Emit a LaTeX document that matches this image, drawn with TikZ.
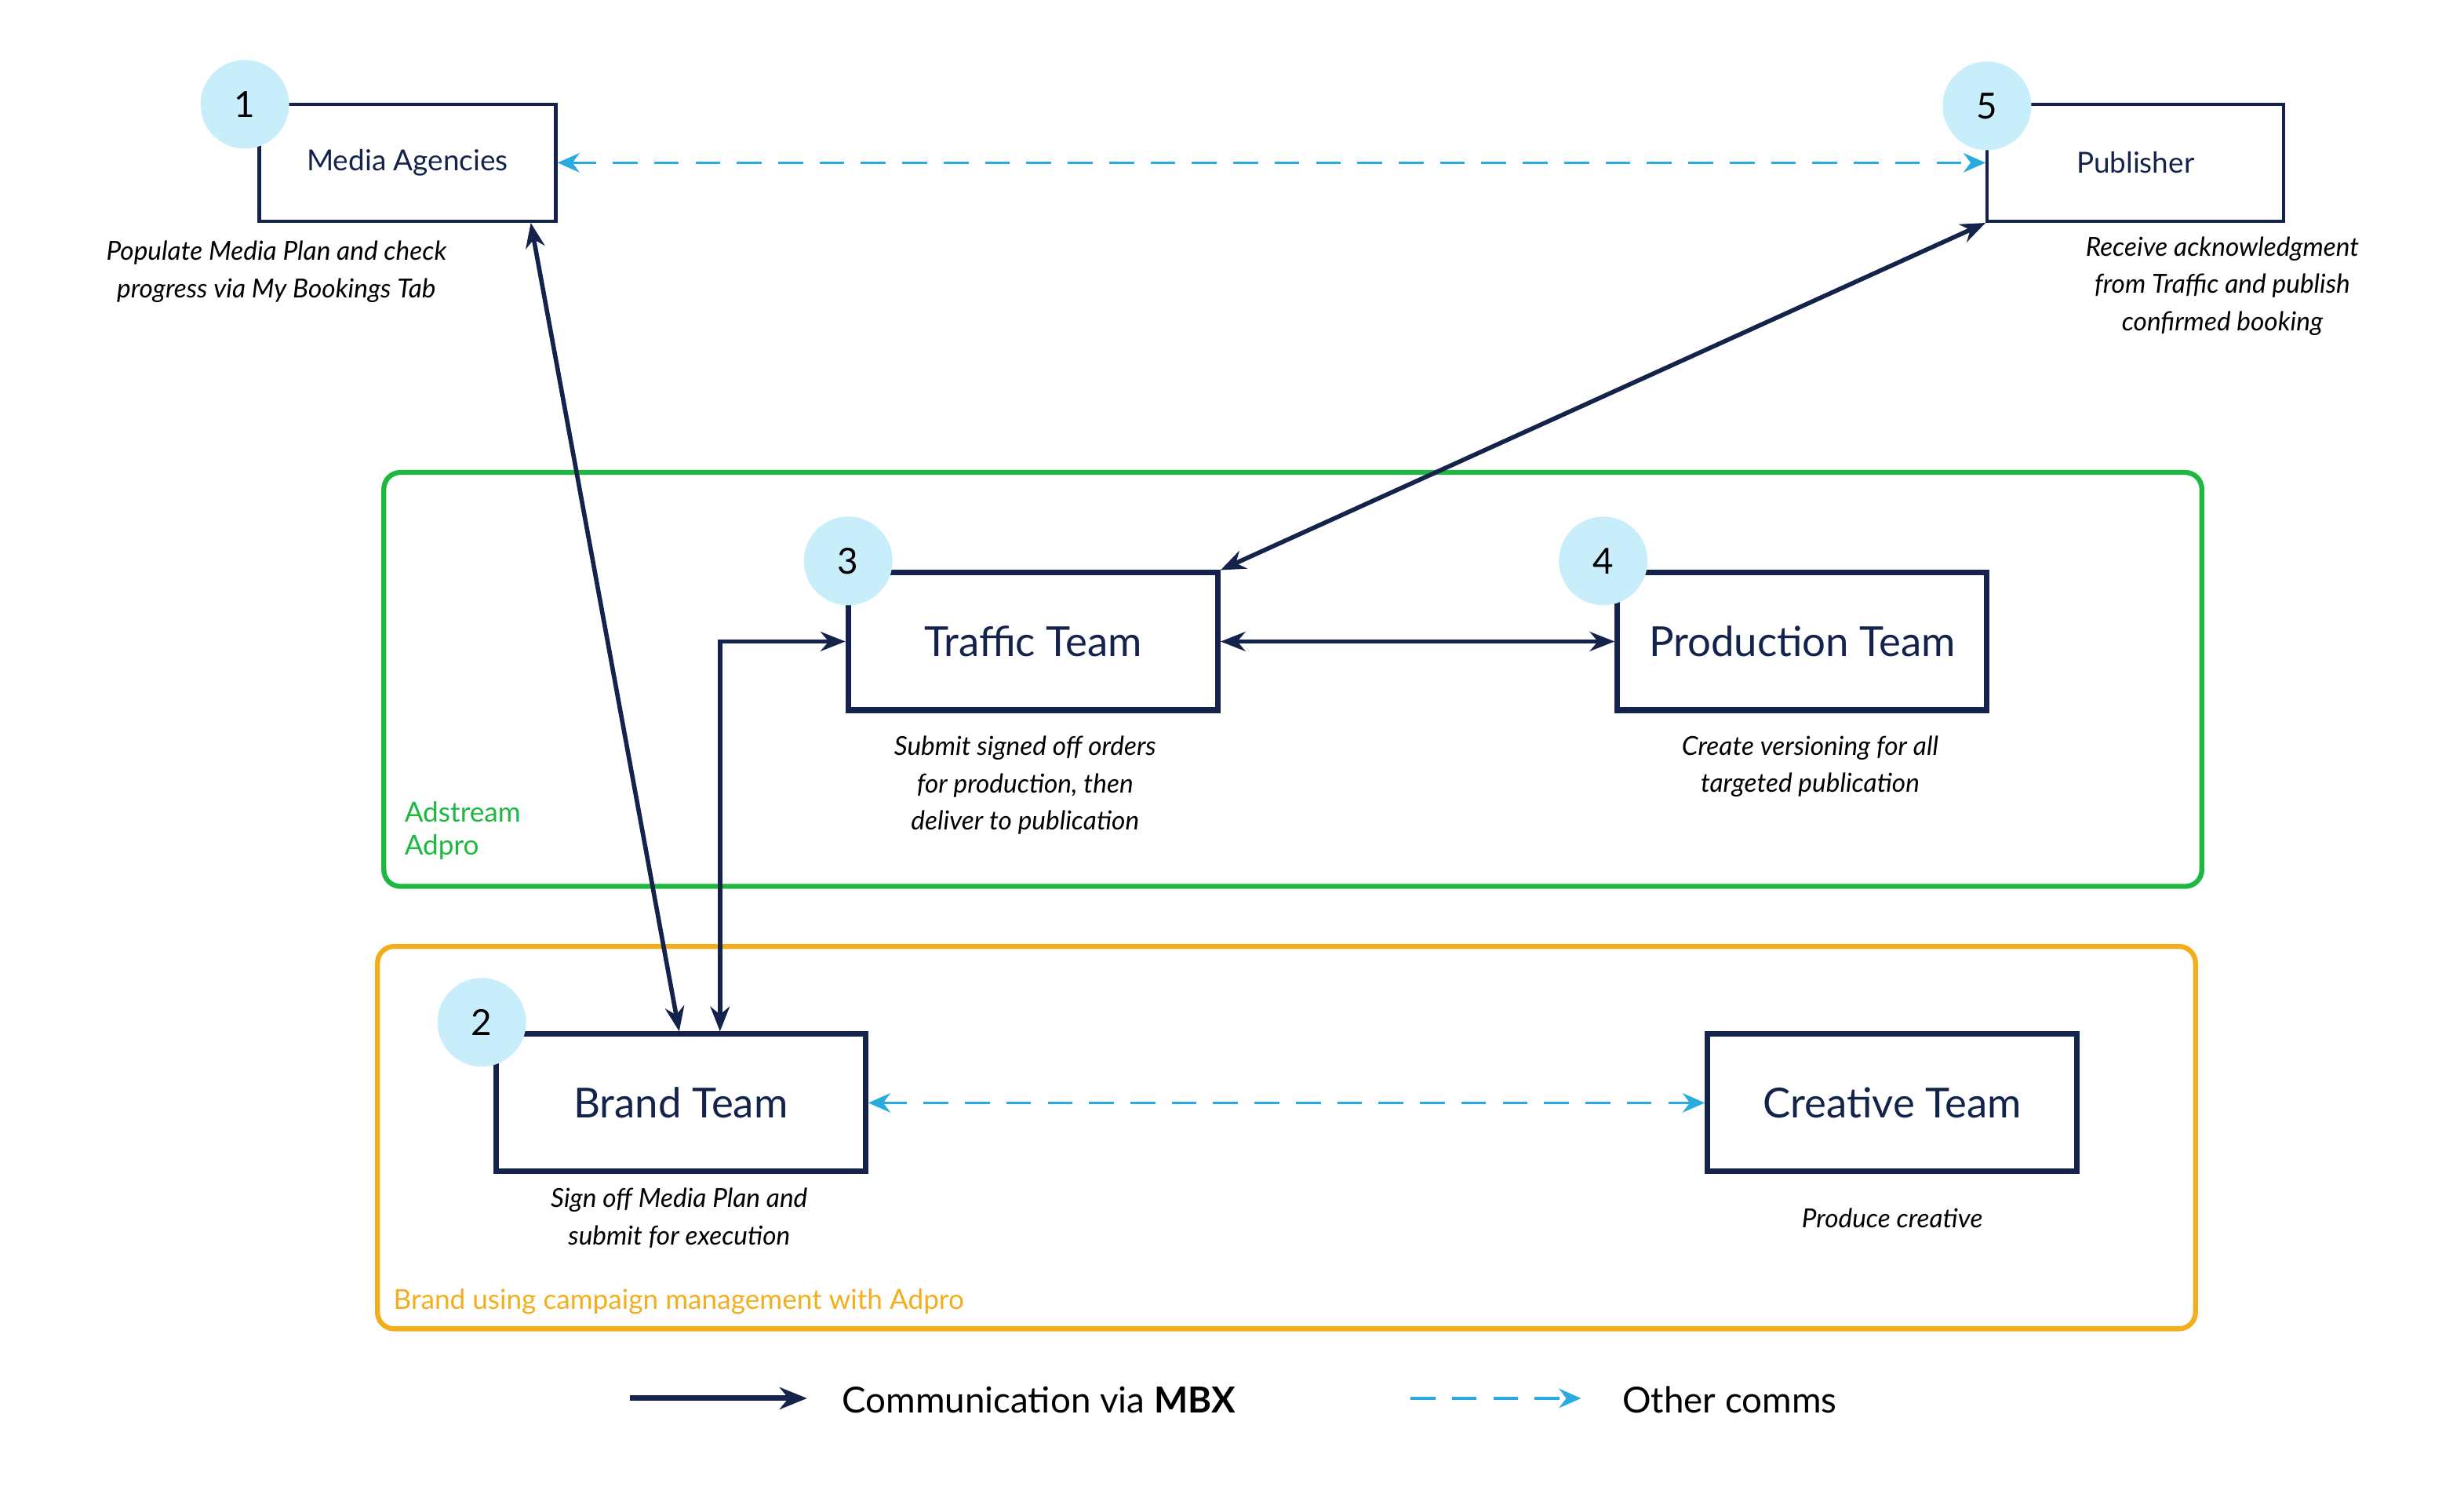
\documentclass[tikz,border=0pt]{standalone}
\usepackage{fontspec}
\setmainfont{Lato}
\usetikzlibrary{arrows.meta,positioning}
\definecolor{navy}{HTML}{14234B}
\definecolor{comms}{HTML}{29ABE2}
\definecolor{badge}{HTML}{C8EEFB}
\definecolor{adgreen}{HTML}{1DB840}
\definecolor{brandorange}{HTML}{F2AE1C}
\begin{document}
\begin{tikzpicture}[x=0.2013mm, y=-0.2013mm,
            small_box/.style={draw=navy, line width=1.2pt, minimum width=37.8mm, minimum height=14.9mm, text=navy, font=\fontsize{10.5}{12}\selectfont, inner sep=0pt},
            team_box/.style={draw=navy, line width=2pt, minimum width=47.1mm, minimum height=17.5mm, text=navy, font=\fontsize{15}{18}\selectfont, inner sep=0pt},
            num/.style={circle, fill=badge, minimum width=11.3mm, inner sep=0pt, text=black, font=\fontsize{13}{15}\selectfont},
            caption/.style={align=center, text=black, font=\itshape\fontsize{9.5}{13.5}\selectfont},
            mbx/.style={draw=navy, line width=1.6pt, {Stealth[length=9pt,width=7pt]}-{Stealth[length=9pt,width=7pt]}},
            other/.style={draw=comms, line width=1pt, dash pattern=on 9pt off 6pt, {Stealth[length=8pt,width=7pt]}-{Stealth[length=8pt,width=7pt]}}]
            \useasboundingbox (0,0) rectangle (1560,955);
            % group frames
            \draw[adgreen, line width=1.8pt, rounded corners=6pt] (243,299) rectangle (1394,561);
            \node[anchor=north west, align=left, text=adgreen, font=\fontsize{10}{12}\selectfont] (adpro) at (250,501) {Adstream\\Adpro};
            \draw[brandorange, line width=1.8pt, rounded corners=6pt] (239,599) rectangle (1390,841);
            \node[anchor=west, text=brandorange, font=\fontsize{10}{12}\selectfont] (brandlbl) at (243,824) {Brand using campaign management with Adpro};
            % boxes
            \node[small_box] (media) at (258,103) {Media Agencies};
            \node[small_box] (pub) at (1352,103) {Publisher};
            \node[team_box] (traffic) at (654,406) {Traffic Team};
            \node[team_box] (prod) at (1141,406) {Production Team};
            \node[team_box] (brand) at (431,698) {Brand Team};
            \node[team_box] (creative) at (1198,698) {Creative Team};
            % numbers
            \node[num] (n1) at (155,66) {1};
            \node[num] (n5) at (1258,67) {5};
            \node[num] (n3) at (537,355) {3};
            \node[num] (n4) at (1015,355) {4};
            \node[num] (n2) at (305,647) {2};
            % captions
            \node[caption] (c1) at (175,172) {Populate Media Plan and check\\progress via My Bookings Tab};
            \node[caption] (c5) at (1407,181) {Receive acknowledgment\\from Traffic and publish\\confirmed booking};
            \node[caption] (c3) at (649,497) {Submit signed off orders\\for production, then\\deliver to publication};
            \node[caption] (c4) at (1146,485) {Create versioning for all\\targeted publication};
            \node[caption] (c2) at (430,771) {Sign off Media Plan and\\submit for execution};
            \node[caption] (c6) at (1198,771) {Produce creative};
            % connectors
            \draw[other] (media.east) -- (pub.west);
            \draw[other] (brand.east) -- (creative.west);
            \draw[mbx] ([xshift=-3.4mm]media.south east) -- ([xshift=-0.2mm]brand.north);
            \draw[mbx] ([xshift=5mm]brand.north) |- (traffic.west);
            \draw[mbx] (traffic.east) -- (prod.west);
            \draw[mbx] (pub.south west) -- (traffic.north east);
            % legend
            \coordinate (l1a) at (399,885);
            \coordinate (l1b) at (511,885);
            \coordinate (l2a) at (893,885);
            \coordinate (l2b) at (1001,885);
            \draw[draw=navy, line width=2pt, -{Stealth[length=10pt,width=8pt]}] (l1a) -- (l1b);
            \draw[draw=comms, line width=1pt, dash pattern=on 9pt off 6pt, -{Stealth[length=8pt,width=7pt]}] (l2a) -- (l2b);
            \node[anchor=west, font=\fontsize{13}{15}\selectfont] (leg1) at (527,886) {Communication via \textbf{MBX}};
            \node[anchor=west, font=\fontsize{13}{15}\selectfont] (leg2) at (1021,886) {Other comms};
\end{tikzpicture}
\end{document}
